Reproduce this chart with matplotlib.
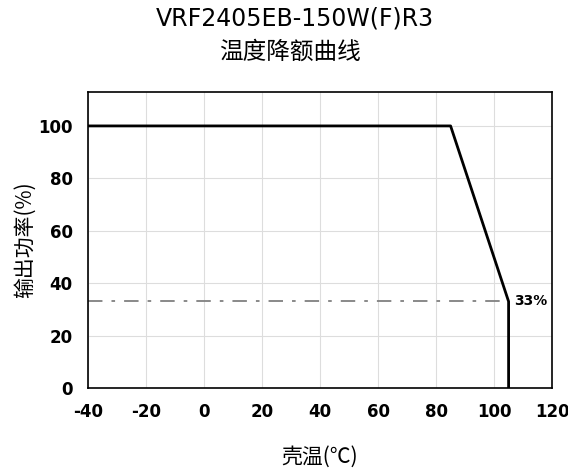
import numpy as np
import matplotlib.pyplot as plt

plt.rcParams['font.family'] = ['DejaVu Sans', 'Noto Sans CJK SC']
plt.rcParams['axes.unicode_minus'] = False

# derating curve data
temp = [-40, 85, 105, 105]
power = [100, 100, 33, 0]
ref_level = 33
x_ticks = [-40, -20, 0, 20, 40, 60, 80, 100, 120]
y_ticks = [0, 20, 40, 60, 80, 100]

fig = plt.figure(figsize=(5.68, 4.76), dpi=100)
ax = fig.add_axes([0.155, 0.185, 0.817, 0.622])

ax.plot([temp[0], temp[2]], [ref_level, ref_level], color='#808080',
        linestyle=(0, (8, 5, 2, 5)), linewidth=1.3)
ax.plot(temp, power, color='black', linewidth=2)
ax.text(temp[2] + 2, ref_level, f"{ref_level}%", fontsize=10, va='center',
        ha='left', fontweight='bold')

ax.set_xlim(-40, 120)
ax.set_ylim(0, 113)
ax.set_xticks(x_ticks)
ax.set_yticks(y_ticks)
ax.tick_params(length=0, labelsize=12, pad=11)
for lab in ax.get_xticklabels() + ax.get_yticklabels():
    lab.set_fontweight('bold')
ax.grid(True, color='#dddddd', linewidth=0.8)
ax.set_axisbelow(True)
for s in ax.spines.values():
    s.set_linewidth(1.2)

ax.set_xlabel("壳温(℃)", fontsize=15, labelpad=18, family='Noto Sans CJK SC')
ax.set_ylabel("输出功率(%)", fontsize=15, labelpad=2, family='Noto Sans CJK SC')
fig.text(0.52, 0.962, "VRF2405EB-150W(F)R3", fontsize=17, ha='center', va='center')
fig.text(0.51, 0.89, "温度降额曲线", fontsize=17, ha='center', va='center',
         family='Noto Sans CJK SC')

fig.savefig("out.png", dpi=100)
